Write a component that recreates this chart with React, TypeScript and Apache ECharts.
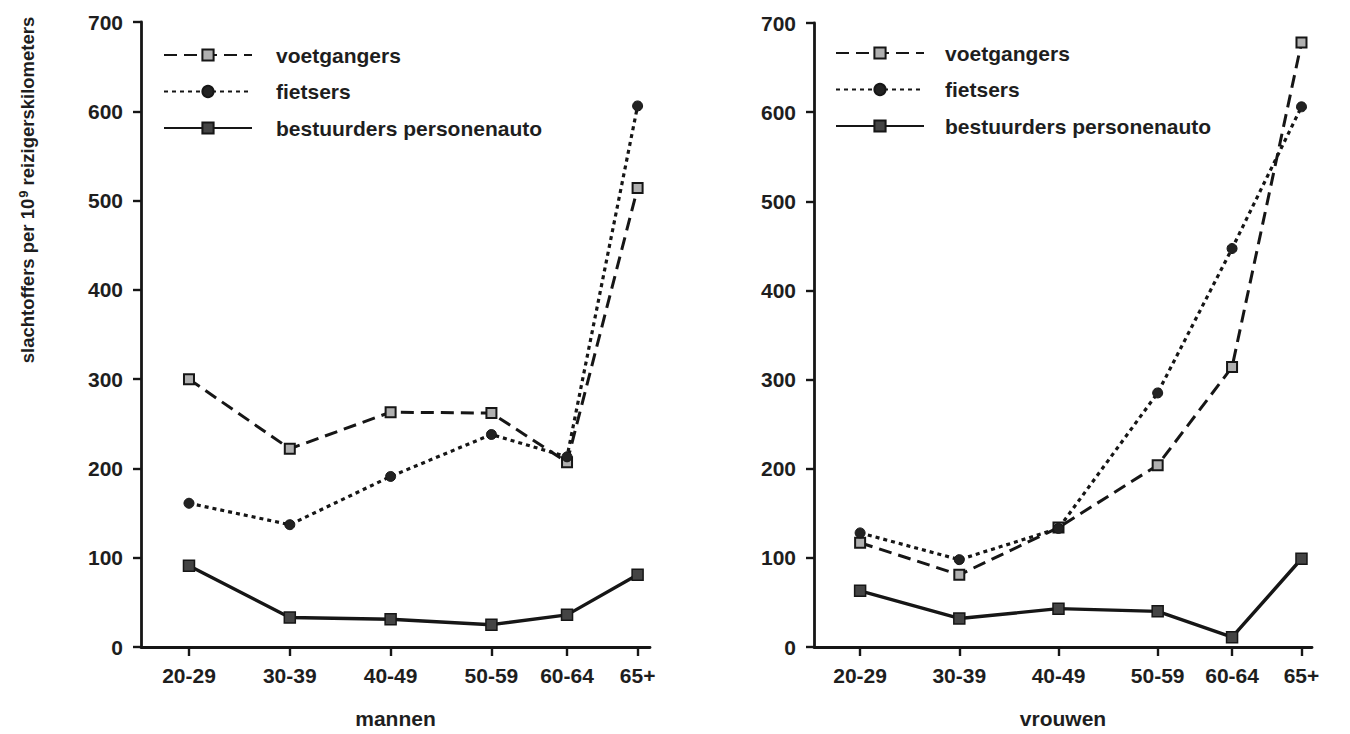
import React, { useEffect, useRef } from "react";
import * as echarts from "echarts";

const ageGroups = ["20-29", "30-39", "40-49", "50-59", "60-64", "65+"];
const ageMid = [25, 35, 45, 55, 62.5, 69.5];
const seriesNames = ["voetgangers", "fietsers", "bestuurders personenauto"];

const mannenVoetgangers = [300, 222, 263, 262, 207, 514];
const mannenFietsers = [161, 137, 191, 238, 213, 606];
const mannenAuto = [91, 33, 31, 25, 36, 81];

const vrouwenVoetgangers = [117, 81, 134, 204, 314, 678];
const vrouwenFietsers = [128, 98, 133, 285, 447, 606];
const vrouwenAuto = [63, 32, 43, 40, 11, 99];

const yTicks = [0, 100, 200, 300, 400, 500, 600, 700];

const FONT = "'Liberation Sans', Arial, Helvetica, sans-serif";
const INK = "#161616";
const TXT = "#1e1e1e";

function pairs(vals: number[]) {
  return vals.map((v, i) => [ageMid[i], v]);
}

function labelFor(v: number) {
  const i = ageMid.findIndex((m) => Math.abs(m - v) < 0.01);
  return i >= 0 ? ageGroups[i] : "";
}

function makeSeries(gridIdx: number, voet: number[], fiets: number[], auto: number[]) {
  return [
    {
      name: seriesNames[0],
      type: "line",
      xAxisIndex: gridIdx,
      yAxisIndex: gridIdx,
      data: pairs(voet),
      symbol: "rect",
      symbolSize: 10,
      lineStyle: { color: INK, width: 3, type: [13, 7] },
      itemStyle: { color: "#b0b0b0", borderColor: INK, borderWidth: 2 },
      z: 3,
    },
    {
      name: seriesNames[1],
      type: "line",
      xAxisIndex: gridIdx,
      yAxisIndex: gridIdx,
      data: pairs(fiets),
      symbol: "circle",
      symbolSize: 10,
      lineStyle: { color: INK, width: 3.2, type: [4, 4] },
      itemStyle: { color: "#222", borderColor: INK, borderWidth: 1 },
      z: 3,
    },
    {
      name: seriesNames[2],
      type: "line",
      xAxisIndex: gridIdx,
      yAxisIndex: gridIdx,
      data: pairs(auto),
      symbol: "rect",
      symbolSize: 11,
      lineStyle: { color: INK, width: 3.4, type: "solid" },
      itemStyle: { color: "#444", borderColor: INK, borderWidth: 1.5 },
      z: 3,
    },
  ];
}

function makeXAxis(gridIdx: number, name: string, min: number, max: number) {
  return {
    type: "value",
    gridIndex: gridIdx,
    min,
    max,
    name,
    nameLocation: "middle",
    nameGap: 61,
    nameTextStyle: { fontFamily: FONT, fontSize: 21, fontWeight: "bold", color: TXT },
    axisLine: { show: true, lineStyle: { color: INK, width: 2.8 } },
    axisTick: { show: true, customValues: ageMid, length: 9, lineStyle: { color: INK, width: 2.4 } },
    axisLabel: {
      customValues: ageMid,
      formatter: (v: number) => labelFor(v),
      fontFamily: FONT,
      fontSize: 21,
      fontWeight: "bold",
      color: TXT,
      margin: 18,
    },
    splitLine: { show: false },
  };
}

function makeYAxis(gridIdx: number) {
  return {
    type: "value",
    gridIndex: gridIdx,
    min: yTicks[0],
    max: yTicks[yTicks.length - 1],
    interval: 100,
    axisLine: { show: true, lineStyle: { color: INK, width: 2.8 } },
    axisTick: { show: true, length: 8, lineStyle: { color: INK, width: 2.4 } },
    axisLabel: { fontFamily: FONT, fontSize: 21, fontWeight: "bold", color: TXT, margin: 18 },
    splitLine: { show: false },
  };
}

function makeLegend(left: number, top: number, pad: number) {
  return {
    orient: "vertical",
    left,
    top,
    itemWidth: 88,
    itemHeight: 14,
    itemGap: 14.5,
    data: seriesNames,
    selectedMode: false,
    textStyle: {
      fontFamily: FONT,
      fontSize: 21,
      fontWeight: "bold",
      color: TXT,
      lineHeight: 22,
      padding: [0, 0, 0, pad],
    },
  };
}

export default function App() {
  const ref = useRef<HTMLDivElement>(null);

  useEffect(() => {
    if (!ref.current) return;
    const chart = echarts.init(ref.current, null, { renderer: "svg" });
    const option: any = {
      animation: false,
      backgroundColor: "#ffffff",
      textStyle: { fontFamily: FONT },
      grid: [
        { left: 141, top: 22, width: 509, height: 629 },
        { left: 814, top: 23, width: 498, height: 628 },
      ],
      xAxis: [makeXAxis(0, "mannen", 20.24, 70.73), makeXAxis(1, "vrouwen", 20.35, 70.56)],
      yAxis: [makeYAxis(0), makeYAxis(1)],
      legend: [makeLegend(158, 39, 19), makeLegend(830, 37, 16)],
      series: [
        ...makeSeries(0, mannenVoetgangers, mannenFietsers, mannenAuto),
        ...makeSeries(1, vrouwenVoetgangers, vrouwenFietsers, vrouwenAuto),
      ],
      graphic: [
        {
          type: "text",
          x: 27,
          y: 190,
          rotation: Math.PI / 2,
          style: {
            text: "slachtoffers per 10{sup|9} reizigerskilometers",
            fontFamily: FONT,
            fontSize: 18.5,
            fontWeight: "bold",
            fill: TXT,
            align: "center",
            verticalAlign: "middle",
            rich: {
              sup: {
                fontFamily: FONT,
                fontSize: 13,
                fontWeight: "bold",
                fill: TXT,
                verticalAlign: "top",
                padding: [0, 0, 8, 1],
              },
            },
          },
        },
      ],
    };
    chart.setOption(option);
    return () => chart.dispose();
  }, []);

  return (
    <div
      ref={ref}
      style={{ position: "absolute", left: 0, top: 0, width: 1350, height: 734 }}
    />
  );
}
